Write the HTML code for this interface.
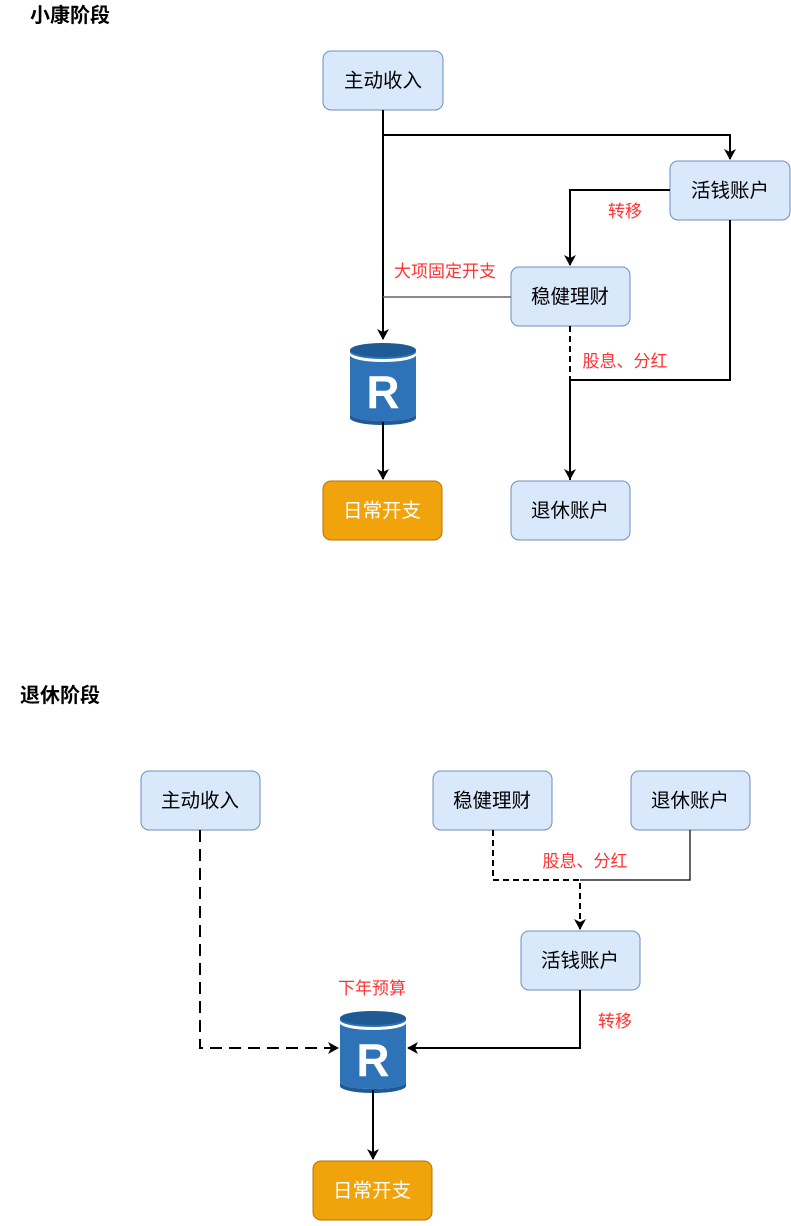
<!DOCTYPE html>
<html><head><meta charset="utf-8"><style>
body{margin:0;background:#fff;}
svg text{font-family:"Liberation Sans","Noto Sans CJK SC",sans-serif;}
</style></head><body>
<svg width="791" height="1221" viewBox="0 0 791 1221" xmlns="http://www.w3.org/2000/svg">
<defs>
<marker id="a" markerWidth="12" markerHeight="12" refX="10" refY="6" orient="auto" markerUnits="userSpaceOnUse"><path d="M0,0 L11,6 L0,12 L3,6 Z" fill="#000"/></marker>
<g id="db">
<path d="M0,8 L0,72 A33,7 0 0 0 66,72 L66,8 Z" fill="#2e73b8"/>
<path d="M0,72 A33,7 0 0 0 66,72 L66,76 A33,7 0 0 1 0,76 Z" fill="#1f5a94"/>
<ellipse cx="33" cy="8" rx="33" ry="7" fill="#1f5a94"/>
<path d="M0,10 A33,7 0 0 0 66,10 L66,13 A33,7 0 0 1 0,13 Z" fill="#fff"/>
<text x="33" y="66" font-size="46" font-weight="bold" fill="#fff" text-anchor="middle">R</text>
</g>
</defs>
<g font-size="20" font-weight="bold"><text x="30" y="22">小康阶段</text><text x="20" y="702">退休阶段</text></g>
<g fill="#dae8fc" stroke="#6c8ebf">
<rect x="323" y="51" width="120" height="59" rx="8"/>
<rect x="670" y="161" width="120" height="59" rx="8"/>
<rect x="511" y="267" width="119" height="59" rx="8"/>
<rect x="511" y="481" width="119" height="59" rx="8"/>
<rect x="141" y="771" width="119" height="59" rx="8"/>
<rect x="433" y="771" width="119" height="59" rx="8"/>
<rect x="631" y="771" width="119" height="59" rx="8"/>
<rect x="521" y="931" width="119" height="59" rx="8"/>
</g>
<g fill="#f0a30a" stroke="#bd7000">
<rect x="323" y="481" width="119" height="59" rx="8"/>
<rect x="313" y="1161" width="119" height="59" rx="8"/>
</g>
<g font-size="19.5" text-anchor="middle">
<text x="383" y="87">主动收入</text><text x="730" y="197">活钱账户</text><text x="570" y="303">稳健理财</text><text x="570" y="517">退休账户</text>
<text x="200" y="807">主动收入</text><text x="492" y="807">稳健理财</text><text x="690" y="807">退休账户</text><text x="580" y="967">活钱账户</text>
<text x="382" y="517" fill="#fff">日常开支</text><text x="372" y="1197" fill="#fff">日常开支</text>
</g>
<g font-size="17" fill="#ff3333" text-anchor="middle">
<text x="625" y="217">转移</text><text x="445" y="277">大项固定开支</text><text x="625" y="367">股息、分红</text>
<text x="585" y="867">股息、分红</text><text x="615" y="1027">转移</text><text x="372" y="994">下年预算</text>
</g>
<use href="#db" x="350" y="342"/>
<use href="#db" x="340" y="1010"/>
<g fill="none" stroke="#000" stroke-width="2">
<path d="M383,110 V339" marker-end="url(#a)"/>
<path d="M383,135 H730 V159" marker-end="url(#a)"/>
<path d="M670,190 H570 V265" marker-end="url(#a)"/>
<path d="M570,326 V480" stroke-dasharray="6,4"/>
<path d="M730,220 V380 H570 V479" marker-end="url(#a)"/>
<path d="M383,422 V479" marker-end="url(#a)"/>
<path d="M200,830 V1048 H338" stroke-dasharray="12,7" marker-end="url(#a)"/>
<path d="M493,830 V880 H580 V929" stroke-dasharray="6,4" marker-end="url(#a)"/>
<path d="M580,990 V1048 H408" marker-end="url(#a)"/>
<path d="M373,1090 V1159" marker-end="url(#a)"/>
</g>
<path d="M511,297 H383" stroke="#666" stroke-width="1.5" fill="none"/>
<path d="M690,830 V880 H580" stroke="#000" stroke-width="1.2" fill="none"/>
</svg>
</body></html>
